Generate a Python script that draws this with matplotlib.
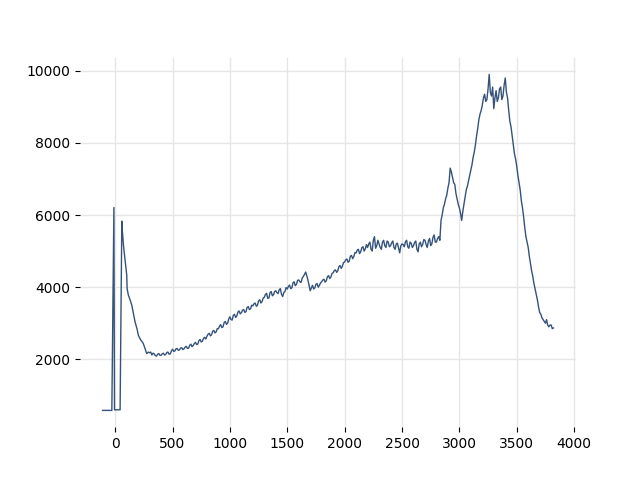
import numpy as np
import matplotlib
matplotlib.use('Agg')
import matplotlib.pyplot as plt

# Leading section (flat baseline, spikes, decay)
x_start = [-110, -29, -11, -6, 43, 58, 62, 72, 85, 95, 101, 104, 115, 130, 145,
           160, 173, 190, 202, 220, 245, 260, 275, 290]
y_start = [583, 583, 6210, 600, 600, 5830, 5600, 5170, 4800, 4500, 4330, 3960,
           3780, 3650, 3500, 3250, 3040, 2850, 2670, 2550, 2440, 2300, 2160, 2200]

# Main section, sampled every 10 units from 300 to 3820
x_main = list(range(300, 3821, 10))
y_main = [
    2180, 2200, 2120, 2170, 2150, 2100, 2090, 2140, 2160, 2110,   # 300
    2110, 2150, 2170, 2120, 2130, 2190, 2200, 2140, 2150, 2230,   # 400
    2280, 2220, 2230, 2290, 2300, 2250, 2260, 2310, 2320, 2270,   # 500
    2290, 2340, 2360, 2300, 2310, 2390, 2420, 2350, 2380, 2440,   # 600
    2470, 2410, 2420, 2520, 2550, 2480, 2500, 2580, 2610, 2560,   # 700
    2640, 2700, 2720, 2650, 2680, 2780, 2800, 2730, 2760, 2850,   # 800
    2850, 2920, 2960, 2880, 2900, 3020, 3050, 2970, 3000, 3120,   # 900
    3180, 3100, 3090, 3220, 3250, 3160, 3200, 3310, 3340, 3260,   # 1000
    3290, 3360, 3380, 3300, 3320, 3440, 3460, 3380, 3400, 3500,   # 1100
    3480, 3540, 3560, 3470, 3500, 3620, 3650, 3560, 3600, 3700,   # 1200
    3720, 3800, 3830, 3690, 3700, 3850, 3880, 3760, 3790, 3880,   # 1300
    3900, 3850, 3820, 3930, 3960, 3800, 3740, 3850, 3880, 3990,   # 1400
    3950, 4020, 4060, 3960, 3980, 4120, 4150, 4040, 4080, 4190,   # 1500
    4200, 4150, 4130, 4250, 4300, 4350, 4420, 4320, 4200, 4050,   # 1600
    3900, 3980, 4050, 3950, 3980, 4080, 4100, 4000, 4050, 4120,   # 1700
    4150, 4200, 4220, 4140, 4180, 4290, 4320, 4240, 4280, 4380,   # 1800
    4400, 4460, 4480, 4410, 4450, 4570, 4600, 4520, 4580, 4680,   # 1900
    4700, 4760, 4780, 4690, 4720, 4860, 4880, 4790, 4850, 4960,   # 2000
    4950, 5030, 5050, 4930, 4980, 5100, 5120, 5000, 5060, 5180,   # 2100
    5100, 5200, 5250, 5050, 5000, 5300, 5400, 5080, 5150, 5300,   # 2200
    5200, 5100, 5050, 5250, 5300, 5150, 5100, 5280, 5250, 5120,   # 2300
    5150, 5230, 5280, 5100, 5050, 5200, 5220, 5080, 4950, 5150,   # 2400
    5200, 5180, 5120, 5260, 5300, 5120, 5080, 5250, 5220, 5100,   # 2500
    5150, 5240, 5280, 5050, 4980, 5200, 5250, 5120, 5180, 5320,   # 2600
    5300, 5180, 5100, 5280, 5350, 5150, 5200, 5380, 5450, 5250,   # 2700
    5250, 5350, 5400, 5300, 5850, 6000, 6200, 6300, 6450, 6550,   # 2800
    6750, 6900, 7300, 7200, 7050, 6900, 6850, 6600, 6450, 6300,   # 2900
    6200, 6050, 5850, 6100, 6300, 6500, 6700, 6800, 6950, 7100,   # 3000
    7250, 7400, 7600, 7750, 7950, 8200, 8400, 8650, 8800, 8900,   # 3100
    9050, 9250, 9350, 9150, 9200, 9500, 9900, 9400, 9300, 9550,   # 3200
    8950, 9250, 9450, 9150, 9250, 9500, 9550, 9200, 9300, 9600,   # 3300
    9800, 9400, 9250, 8900, 8600, 8450, 8200, 7950, 7700, 7550,   # 3400
    7350, 7100, 6900, 6700, 6400, 6200, 5950, 5650, 5400, 5250,   # 3500
    5100, 4850, 4650, 4450, 4300, 4100, 3950, 3800, 3650, 3450,   # 3600
    3300, 3250, 3150, 3100, 3050, 3000, 3100, 2950, 2900, 2950,   # 3700
    2950, 2850, 2870,                                             # 3800
]

x = x_start + x_main
y = y_start + y_main

fig, ax = plt.subplots(figsize=(6.4, 4.8), dpi=100)
ax.plot(x, y, color='#34527a', linewidth=1)

ax.grid(True, color='#e6e6e6', linewidth=1)
ax.set_axisbelow(True)
for side in ['top', 'right', 'bottom', 'left']:
    ax.spines[side].set_visible(False)
ax.set_xticks([0, 500, 1000, 1500, 2000, 2500, 3000, 3500, 4000])
ax.set_yticks([2000, 4000, 6000, 8000, 10000])

plt.savefig('out.png', dpi=100)
